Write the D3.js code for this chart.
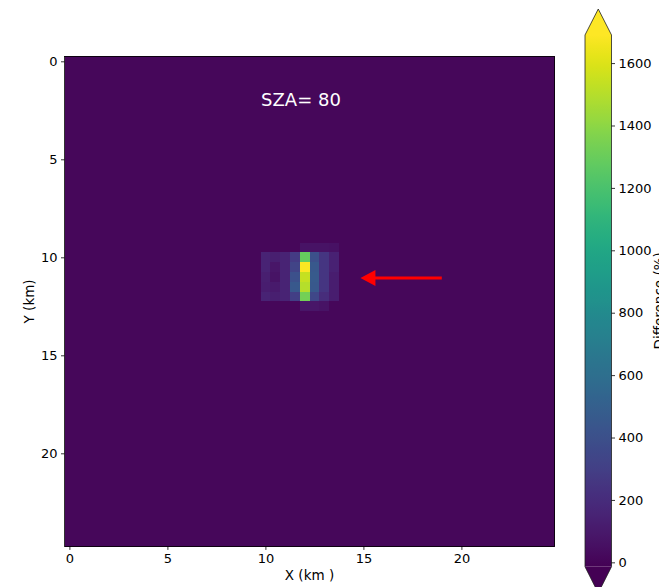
<!DOCTYPE html>
<html><head><meta charset="utf-8">
<script src="https://cdn.jsdelivr.net/npm/d3@7"></script>
<style>html,body{margin:0;padding:0;background:#fff;overflow:hidden}svg{display:block;font-family:"DejaVu Sans",sans-serif}</style>
</head><body>
<svg id="chart" width="659" height="587"></svg>
<script>
// ---- data ----
const gridSize = 50;          // cells per side
const cellKm = 0.5;           // km per cell
const backgroundValue = 15;   // typical background difference (%)
const blockRowStart = 19;     // row index of first row of the hot block
const blockColStart = 20;     // col index of first col of the hot block
const blockValues = [
  [15, 15, 15, 15, 70, 70, 70, 60],
  [150, 130, 150, 280, 1290, 400, 250, 140],
  [150, 80, 150, 330, 1680, 450, 250, 140],
  [130, 70, 150, 400, 1540, 460, 250, 120],
  [120, 100, 150, 450, 1500, 450, 250, 120],
  [150, 130, 150, 300, 1330, 350, 200, 120],
  [15, 15, 15, 15, 80, 80, 70, 15]
];
const axisTicks = [0, 5, 10, 15, 20];
const colorTicks = [0, 200, 400, 600, 800, 1000, 1200, 1400, 1600];
const colorDomain = [-14, 1690];
const titleText = "SZA= 80";
const arrowFrom = [19.0, 11.05];
const arrowTo = [14.85, 11.05];

// ---- build cells ----
const cells = [];
for (let r = 0; r < gridSize; r++) for (let c = 0; c < gridSize; c++) {
  let v = backgroundValue;
  const br = r - blockRowStart, bc = c - blockColStart;
  if (br >= 0 && br < blockValues.length && bc >= 0 && bc < blockValues[0].length) v = blockValues[br][bc];
  cells.push({ x: c * cellKm, y: r * cellKm, v });
}

const svg = d3.select("#chart");
const L = 64.5, T = 56.4, S = 490;
const x = d3.scaleLinear().domain([-cellKm / 2, gridSize * cellKm - cellKm / 2]).range([L, L + S]);
const y = d3.scaleLinear().domain([-cellKm / 2, gridSize * cellKm - cellKm / 2]).range([T, T + S]);
const color = d3.scaleSequential(d3.interpolateViridis).domain(colorDomain).clamp(true);

// cells
svg.append("g").selectAll("rect").data(cells).join("rect")
  .attr("x", d => x(d.x - cellKm / 2))
  .attr("y", d => y(d.y - cellKm / 2))
  .attr("width", x(cellKm) - x(0) + 0.3)
  .attr("height", y(cellKm) - y(0) + 0.3)
  .attr("fill", d => color(d.v))
  .attr("shape-rendering", "crispEdges");

// axes
const xAxis = d3.axisBottom(x).tickValues(axisTicks).tickSize(3.5).tickPadding(3.5).tickFormat(d3.format("d"));
const yAxis = d3.axisLeft(y).tickValues(axisTicks).tickSize(3.5).tickPadding(3.5).tickFormat(d3.format("d"));
const gx = svg.append("g").attr("transform", `translate(0,${T + S})`).call(xAxis);
const gy = svg.append("g").attr("transform", `translate(${L},0)`).call(yAxis);
[gx, gy].forEach(g => {
  g.select(".domain").remove();
  g.selectAll("text").attr("font-size", 13).attr("fill", "#000").attr("font-family", "DejaVu Sans");
  g.selectAll("line").attr("stroke", "#000").attr("stroke-width", 0.8);
});
svg.append("rect").attr("x", L).attr("y", T).attr("width", S).attr("height", S)
  .attr("fill", "none").attr("stroke", "#000").attr("stroke-width", 0.8);

svg.append("text").attr("x", L + S / 2).attr("y", 580).attr("text-anchor", "middle")
  .attr("font-size", 13.5).text("X (km )");
svg.append("text").attr("transform", `translate(34,${T + S / 2}) rotate(-90)`).attr("text-anchor", "middle")
  .attr("font-size", 13.5).text("Y (km)");

// title
svg.append("text").attr("x", 301).attr("y", 105.5).attr("text-anchor", "middle")
  .attr("font-size", 18).attr("fill", "#fff").text(titleText);

// arrow
const ax0 = x(arrowFrom[0]), ay0 = y(arrowFrom[1]), ax1 = x(arrowTo[0]), ay1 = y(arrowTo[1]);
const headLen = 15, headHalf = 8;
svg.append("line").attr("x1", ax0).attr("y1", ay0).attr("x2", ax1 + headLen - 1).attr("y2", ay1)
  .attr("stroke", "#ff0000").attr("stroke-width", 3);
svg.append("path").attr("d", `M${ax1},${ay1} L${ax1 + headLen},${ay1 - headHalf} L${ax1 + headLen},${ay1 + headHalf} Z`)
  .attr("fill", "#ff0000");

// colorbar
const cbX = 585, cbW = 26.5, cbTop = 35, cbBot = 566.7, tipTop = 9, tipBot = 593;
const cy = d3.scaleLinear().domain(colorDomain).range([cbBot, cbTop]);
const defs = svg.append("defs");
const grad = defs.append("linearGradient").attr("id", "cbgrad").attr("x1", 0).attr("y1", 1).attr("x2", 0).attr("y2", 0);
d3.range(0, 1.0001, 0.02).forEach(t => grad.append("stop").attr("offset", t).attr("stop-color", d3.interpolateViridis(t)));
svg.append("rect").attr("x", cbX).attr("y", cbTop).attr("width", cbW).attr("height", cbBot - cbTop).attr("fill", "url(#cbgrad)");
svg.append("path").attr("d", `M${cbX},${cbTop} L${cbX + cbW / 2},${tipTop} L${cbX + cbW},${cbTop} Z`).attr("fill", d3.interpolateViridis(1));
svg.append("path").attr("d", `M${cbX},${cbBot} L${cbX + cbW / 2},${tipBot} L${cbX + cbW},${cbBot} Z`).attr("fill", d3.interpolateViridis(0));
svg.append("path")
  .attr("d", `M${cbX},${cbTop} L${cbX + cbW / 2},${tipTop} L${cbX + cbW},${cbTop} L${cbX + cbW},${cbBot} L${cbX + cbW / 2},${tipBot} L${cbX},${cbBot} Z`)
  .attr("fill", "none").attr("stroke", "#222").attr("stroke-width", 0.8);
const cAxis = d3.axisRight(cy).tickValues(colorTicks).tickSize(3.5).tickPadding(3.5).tickFormat(d3.format("d"));
const gc = svg.append("g").attr("transform", `translate(${cbX + cbW},0)`).call(cAxis);
gc.select(".domain").remove();
gc.selectAll("text").attr("font-size", 13).attr("fill", "#000").attr("font-family", "DejaVu Sans");
gc.selectAll("line").attr("stroke", "#000").attr("stroke-width", 0.8);
svg.append("text").attr("transform", `translate(664,${(cbTop + cbBot) / 2}) rotate(-90)`).attr("text-anchor", "middle")
  .attr("font-size", 13.5).text("Difference (%)");
</script>
</body></html>
